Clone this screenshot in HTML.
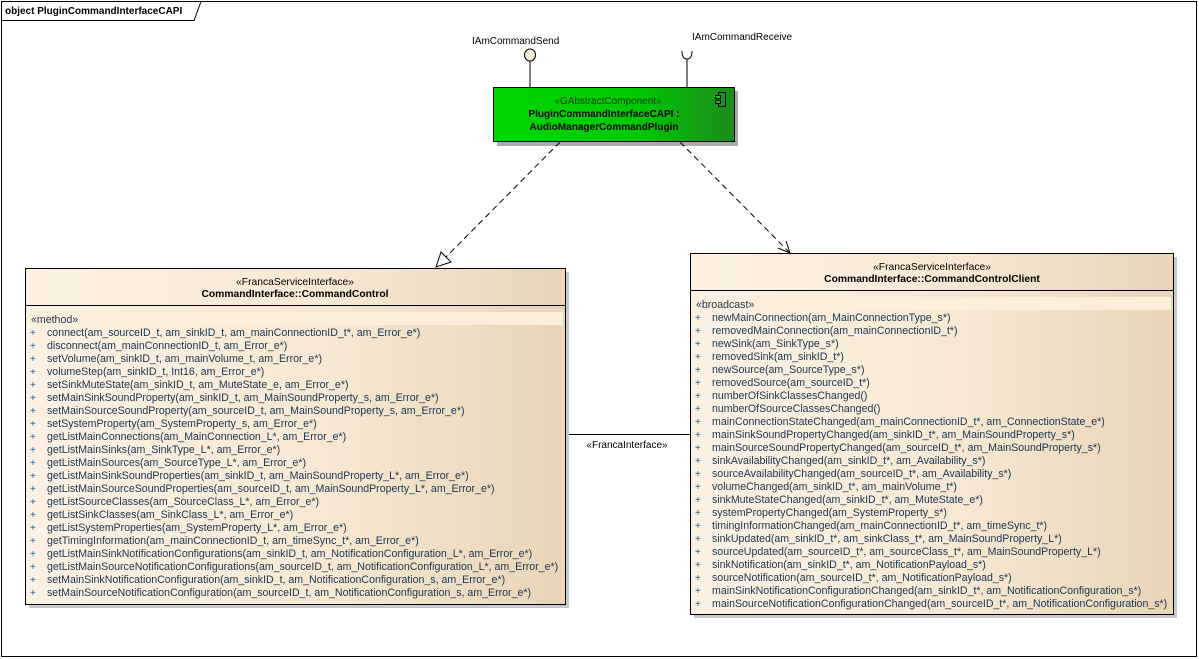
<!DOCTYPE html>
<html><head><meta charset="utf-8"><style>
html,body{margin:0;padding:0;background:#fff;}
svg{display:block;font-family:"Liberation Sans",Arial,sans-serif;}
.m{font-size:10.6px;fill:#1c3550;}
.p{font-size:10px;fill:#1c5a8a;}
</style></head><body>
<svg width="1199" height="659" viewBox="0 0 1199 659">
<defs>
<linearGradient id="bg" x1="0" x2="1" y1="0" y2="0">
<stop offset="0" stop-color="#fbf1e3"/><stop offset="0.55" stop-color="#f6e8d3"/><stop offset="1" stop-color="#e8d5b8"/>
</linearGradient>
<linearGradient id="gg" x1="0" x2="1" y1="0" y2="0">
<stop offset="0" stop-color="#00d800"/><stop offset="0.6" stop-color="#00c800"/><stop offset="1" stop-color="#1e8a1e"/>
</linearGradient>
</defs>
<rect x="1.5" y="1.5" width="1195" height="655" fill="#fff" stroke="#000"/>
<path d="M1.5 20.5 H194 L201 1.5" fill="none" stroke="#000"/>
<text x="5" y="14" font-size="10" font-weight="bold" fill="#000">object PluginCommandInterfaceCAPI</text>

<!-- interfaces -->
<text x="472" y="44" font-size="10" fill="#000">IAmCommandSend</text>
<line x1="530" y1="61" x2="530" y2="87" stroke="#000"/>
<ellipse cx="530" cy="55" rx="5.5" ry="6" fill="#f5e9d6" stroke="#000"/>
<text x="692" y="40" font-size="10" fill="#000">IAmCommandReceive</text>
<line x1="687" y1="59" x2="687" y2="87" stroke="#000"/>
<path d="M682 51 Q682 59 687 59 Q692 59 692 51" fill="none" stroke="#000"/>

<!-- component -->
<rect x="497" y="91" width="241" height="55" fill="#aaa"/>
<rect x="493.5" y="87.5" width="241" height="54" fill="url(#gg)" stroke="#000"/>
<text x="608" y="104" font-size="10" text-anchor="middle" fill="#0b3a0b">«GAbstractComponent»</text>
<text x="604" y="117" font-size="10" font-weight="bold" text-anchor="middle" fill="#000">PluginCommandInterfaceCAPI :</text>
<text x="604" y="130" font-size="10" font-weight="bold" text-anchor="middle" fill="#000">AudioManagerCommandPlugin</text>
<rect x="718.5" y="92.5" width="7" height="14" fill="none" stroke="#000"/>
<rect x="715.5" y="95.5" width="5" height="3" fill="#0c0" stroke="#000"/>
<rect x="715.5" y="100.5" width="5" height="3" fill="#0c0" stroke="#000"/>

<!-- dependencies -->
<line x1="560" y1="142" x2="446" y2="257" stroke="#000" stroke-dasharray="6,4"/>
<polygon points="436,267 441,252 451,262" fill="#fff" stroke="#000"/>
<line x1="680" y1="142" x2="789" y2="252" stroke="#000" stroke-dasharray="6,4"/>
<path d="M778 248 L790 253 L786 241" fill="none" stroke="#000"/>

<!-- association -->
<line x1="565" y1="434.5" x2="690" y2="434.5" stroke="#000"/>
<text x="627" y="448" font-size="10" text-anchor="middle" fill="#000">«FrancaInterface»</text>

<!-- left box -->
<rect x="29" y="272" width="540" height="336" fill="#c8c8c8"/>
<rect x="25.5" y="268.5" width="540" height="336" fill="url(#bg)" stroke="#000"/>
<line x1="25.5" y1="305.5" x2="565.5" y2="305.5" stroke="#000"/>
<text x="295" y="285" font-size="10.3" text-anchor="middle" fill="#000">«FrancaServiceInterface»</text>
<text x="295" y="297" font-size="10.3" font-weight="bold" text-anchor="middle" fill="#000">CommandInterface::CommandControl</text>
<rect x="28" y="312" width="535" height="13" fill="#fbeedb"/>
<text x="31" y="323" class="m">«method»</text>
<g class="m">
<text x="47" y="336">connect(am_sourceID_t, am_sinkID_t, am_mainConnectionID_t*, am_Error_e*)</text>
<text x="47" y="349">disconnect(am_mainConnectionID_t, am_Error_e*)</text>
<text x="47" y="362">setVolume(am_sinkID_t, am_mainVolume_t, am_Error_e*)</text>
<text x="47" y="375">volumeStep(am_sinkID_t, Int16, am_Error_e*)</text>
<text x="47" y="388">setSinkMuteState(am_sinkID_t, am_MuteState_e, am_Error_e*)</text>
<text x="47" y="401">setMainSinkSoundProperty(am_sinkID_t, am_MainSoundProperty_s, am_Error_e*)</text>
<text x="47" y="414">setMainSourceSoundProperty(am_sourceID_t, am_MainSoundProperty_s, am_Error_e*)</text>
<text x="47" y="427">setSystemProperty(am_SystemProperty_s, am_Error_e*)</text>
<text x="47" y="440">getListMainConnections(am_MainConnection_L*, am_Error_e*)</text>
<text x="47" y="453">getListMainSinks(am_SinkType_L*, am_Error_e*)</text>
<text x="47" y="466">getListMainSources(am_SourceType_L*, am_Error_e*)</text>
<text x="47" y="479">getListMainSinkSoundProperties(am_sinkID_t, am_MainSoundProperty_L*, am_Error_e*)</text>
<text x="47" y="492">getListMainSourceSoundProperties(am_sourceID_t, am_MainSoundProperty_L*, am_Error_e*)</text>
<text x="47" y="505">getListSourceClasses(am_SourceClass_L*, am_Error_e*)</text>
<text x="47" y="518">getListSinkClasses(am_SinkClass_L*, am_Error_e*)</text>
<text x="47" y="531">getListSystemProperties(am_SystemProperty_L*, am_Error_e*)</text>
<text x="47" y="544">getTimingInformation(am_mainConnectionID_t, am_timeSync_t*, am_Error_e*)</text>
<text x="47" y="557">getListMainSinkNotificationConfigurations(am_sinkID_t, am_NotificationConfiguration_L*, am_Error_e*)</text>
<text x="47" y="570">getListMainSourceNotificationConfigurations(am_sourceID_t, am_NotificationConfiguration_L*, am_Error_e*)</text>
<text x="47" y="583">setMainSinkNotificationConfiguration(am_sinkID_t, am_NotificationConfiguration_s, am_Error_e*)</text>
<text x="47" y="596">setMainSourceNotificationConfiguration(am_sourceID_t, am_NotificationConfiguration_s, am_Error_e*)</text>
</g>
<g class="p">
<text x="30" y="336">+</text><text x="30" y="349">+</text><text x="30" y="362">+</text><text x="30" y="375">+</text><text x="30" y="388">+</text><text x="30" y="401">+</text><text x="30" y="414">+</text><text x="30" y="427">+</text><text x="30" y="440">+</text><text x="30" y="453">+</text><text x="30" y="466">+</text><text x="30" y="479">+</text><text x="30" y="492">+</text><text x="30" y="505">+</text><text x="30" y="518">+</text><text x="30" y="531">+</text><text x="30" y="544">+</text><text x="30" y="557">+</text><text x="30" y="570">+</text><text x="30" y="583">+</text><text x="30" y="596">+</text>
</g>

<!-- right box -->
<rect x="694" y="257" width="483" height="361" fill="#c8c8c8"/>
<rect x="690.5" y="253.5" width="483" height="361" fill="url(#bg)" stroke="#000"/>
<line x1="690.5" y1="290.5" x2="1173.5" y2="290.5" stroke="#000"/>
<text x="932" y="270" font-size="10.3" text-anchor="middle" fill="#000">«FrancaServiceInterface»</text>
<text x="932" y="282" font-size="10.3" font-weight="bold" text-anchor="middle" fill="#000">CommandInterface::CommandControlClient</text>
<rect x="693" y="297" width="478" height="13" fill="#fbeedb"/>
<text x="696" y="308" class="m">«broadcast»</text>
<g class="m">
<text x="712" y="321">newMainConnection(am_MainConnectionType_s*)</text>
<text x="712" y="334">removedMainConnection(am_mainConnectionID_t*)</text>
<text x="712" y="347">newSink(am_SinkType_s*)</text>
<text x="712" y="360">removedSink(am_sinkID_t*)</text>
<text x="712" y="373">newSource(am_SourceType_s*)</text>
<text x="712" y="386">removedSource(am_sourceID_t*)</text>
<text x="712" y="399">numberOfSinkClassesChanged()</text>
<text x="712" y="412">numberOfSourceClassesChanged()</text>
<text x="712" y="425">mainConnectionStateChanged(am_mainConnectionID_t*, am_ConnectionState_e*)</text>
<text x="712" y="438">mainSinkSoundPropertyChanged(am_sinkID_t*, am_MainSoundProperty_s*)</text>
<text x="712" y="451">mainSourceSoundPropertyChanged(am_sourceID_t*, am_MainSoundProperty_s*)</text>
<text x="712" y="464">sinkAvailabilityChanged(am_sinkID_t*, am_Availability_s*)</text>
<text x="712" y="477">sourceAvailabilityChanged(am_sourceID_t*, am_Availability_s*)</text>
<text x="712" y="490">volumeChanged(am_sinkID_t*, am_mainVolume_t*)</text>
<text x="712" y="503">sinkMuteStateChanged(am_sinkID_t*, am_MuteState_e*)</text>
<text x="712" y="516">systemPropertyChanged(am_SystemProperty_s*)</text>
<text x="712" y="529">timingInformationChanged(am_mainConnectionID_t*, am_timeSync_t*)</text>
<text x="712" y="542">sinkUpdated(am_sinkID_t*, am_sinkClass_t*, am_MainSoundProperty_L*)</text>
<text x="712" y="555">sourceUpdated(am_sourceID_t*, am_sourceClass_t*, am_MainSoundProperty_L*)</text>
<text x="712" y="568">sinkNotification(am_sinkID_t*, am_NotificationPayload_s*)</text>
<text x="712" y="581">sourceNotification(am_sourceID_t*, am_NotificationPayload_s*)</text>
<text x="712" y="594">mainSinkNotificationConfigurationChanged(am_sinkID_t*, am_NotificationConfiguration_s*)</text>
<text x="712" y="607">mainSourceNotificationConfigurationChanged(am_sourceID_t*, am_NotificationConfiguration_s*)</text>
</g>
<g class="p">
<text x="695" y="321">+</text><text x="695" y="334">+</text><text x="695" y="347">+</text><text x="695" y="360">+</text><text x="695" y="373">+</text><text x="695" y="386">+</text><text x="695" y="399">+</text><text x="695" y="412">+</text><text x="695" y="425">+</text><text x="695" y="438">+</text><text x="695" y="451">+</text><text x="695" y="464">+</text><text x="695" y="477">+</text><text x="695" y="490">+</text><text x="695" y="503">+</text><text x="695" y="516">+</text><text x="695" y="529">+</text><text x="695" y="542">+</text><text x="695" y="555">+</text><text x="695" y="568">+</text><text x="695" y="581">+</text><text x="695" y="594">+</text><text x="695" y="607">+</text>
</g>
</svg>
</body></html>
